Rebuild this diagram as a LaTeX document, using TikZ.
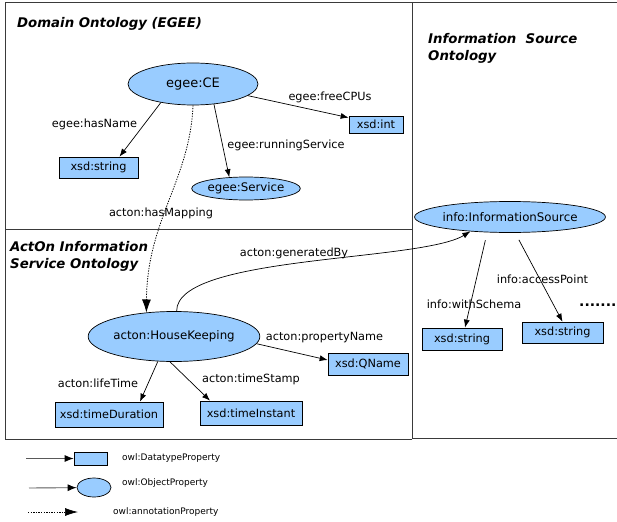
\documentclass[tikz,border=0pt]{standalone}
\usepackage{fontspec}
\setmainfont{DejaVu Sans}
\usetikzlibrary{arrows.meta,shapes.geometric}
\definecolor{nodeblue}{HTML}{99CCFF}
\definecolor{framegray}{HTML}{3A3A3A}
\begin{document}
\begin{tikzpicture}[x=1pt,y=-1pt,
  cls/.style={ellipse, draw=black, fill=nodeblue, line width=0.7pt, inner sep=0pt, font=\fontsize{11.8}{14}\selectfont},
  dtype/.style={rectangle, draw=black, fill=nodeblue, line width=0.7pt, inner sep=0pt, font=\fontsize{11.3}{14}\selectfont},
  prop/.style={font=\fontsize{11.3}{13}\selectfont, inner sep=0pt},
  title/.style={font=\fontsize{13.3}{17}\selectfont\bfseries\itshape, align=left, anchor=north west, inner sep=0pt},
  rel/.style={-{Latex[length=8pt,width=6pt]}, line width=0.7pt},
  mapping/.style={-{Latex[length=13pt,width=9pt]}, line width=0.8pt, dash pattern=on 1.3pt off 1.3pt},
  frame/.style={draw=framegray, line width=1pt},
  legline/.style={-{Latex[length=9pt,width=7pt,color=black]}, draw=gray!70!black, line width=0.9pt},
  legdot/.style={-{Latex[length=13pt,width=8pt]}, line width=0.7pt, dash pattern=on 1.3pt off 1.3pt},
  legtxt/.style={font=\fontsize{9}{11}\selectfont, anchor=west, inner sep=0pt}
]
\useasboundingbox (0,0) rectangle (617,521);

% frames
\draw[frame] (5,439) -- (5,3) -- (617,3);
\draw[frame] (5,439) -- (412,439);
\draw[frame] (412,438) -- (617,438);
\draw[frame] (412,3) -- (412,439);
\draw[frame] (5,229) -- (412,229);

% titles
\node[title] (t1) at (17,17) {Domain Ontology (EGEE)};
\node[title] (t2) at (10,241) {ActOn Information\\Service Ontology};
\node[title] (t3) at (428,33) {Information\ \ Source\\Ontology};

% nodes
\node[cls, minimum width=130pt, minimum height=42pt, font=\fontsize{13}{15}\selectfont] (ce) at (193,84) {egee:CE};
\node[dtype, minimum width=54pt, minimum height=17pt] (int) at (376,124.5) {xsd:int};
\node[dtype, minimum width=79pt, minimum height=21pt] (str1) at (98.5,167.5) {xsd:string};
\node[cls, minimum width=96pt, minimum height=23pt] (svc) at (246,188.5) {egee:Service};
\node[cls, minimum width=138pt, minimum height=50pt] (hk) at (174,336.5) {acton:HouseKeeping};
\node[dtype, minimum width=80pt, minimum height=22pt] (qn) at (368,364) {xsd:QName};
\node[dtype, minimum width=108pt, minimum height=25pt] (td) at (109,414.5) {xsd:timeDuration};
\node[dtype, minimum width=102pt, minimum height=24pt] (ti) at (251,413) {xsd:timeInstant};
\node[cls, minimum width=156pt, minimum height=31pt] (info) at (510,217) {info:InformationSource};
\node[dtype, minimum width=80pt, minimum height=22pt] (sL) at (462,339) {xsd:string};
\node[dtype, minimum width=81pt, minimum height=21pt] (sR) at (562.5,332.5) {xsd:string};

% edges
\draw[rel] (ce.210) -- ([xshift=21pt]str1.north);
\draw[rel] (ce.316) -- (svc.146);
\draw[rel] (ce.348) -- ([yshift=-2pt]int.north west);
\draw[mapping] (ce.south) .. controls (190,180) and (147,220) .. (hk.139);
\draw[rel] (hk.84) .. controls (176,255) and (420,262) .. (info.200);
\draw[rel] (hk.355) -- ([yshift=4pt]qn.west);
\draw[rel] (hk.237) -- ([xshift=31pt]td.north);
\draw[rel] (hk.261) -- ([xshift=-41pt]ti.north);
\draw[rel, shorten <=8pt] (info.214) -- ([xshift=3pt]sL.north);
\draw[rel, shorten <=8pt] (info.288) -- (sR.north);

% edge labels
\node[prop] (lhn) at (94.5,124) {egee:hasName};
\node[prop] (lfc) at (330,97) {egee:freeCPUs};
\node[prop] (lrs) at (286,145) {egee:runningService};
\node[prop] (lhm) at (161,213) {acton:hasMapping};
\node[prop] (lgb) at (294,253) {acton:generatedBy};
\node[prop] (lpn) at (324.5,338) {acton:propertyName};
\node[prop] (llt) at (98,383) {acton:lifeTime};
\node[prop] (lts) at (251,379) {acton:timeStamp};
\node[prop] (lap) at (542.5,279) {info:accessPoint};
\node[prop] (lws) at (474,304) {info:withSchema};
\node[font=\fontsize{14}{14}\selectfont\bfseries, anchor=west, inner sep=0pt] (dots) at (579,305) {.......};

% legend
\coordinate (d0) at (26,458.5);
\node[dtype, minimum width=33pt, minimum height=13pt] (ldt) at (90.5,458.5) {};
\draw[legline] (d0) -- (ldt);
\coordinate (o0) at (29,488);
\node[cls, minimum width=34pt, minimum height=19pt] (lob) at (94,487.5) {};
\draw[legline] (o0) -- (lob);
\coordinate (a0) at (28,512);
\coordinate (a1) at (78,512);
\draw[legdot] (a0) -- (a1);
\node[legtxt] (lt1) at (122,458) {owl:DatatypeProperty};
\node[legtxt] (lt2) at (122,483) {owl:ObjectProperty};
\node[legtxt] (lt3) at (113,512) {owl:annotationProperty};
\end{tikzpicture}
\end{document}
